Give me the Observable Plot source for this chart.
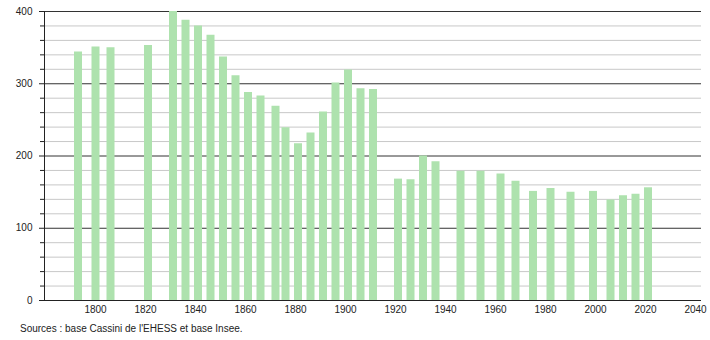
<!DOCTYPE html>
<html><head><meta charset="utf-8">
<script src="https://cdn.jsdelivr.net/npm/d3@7"></script>
<script src="https://cdn.jsdelivr.net/npm/@observablehq/plot@0.6"></script>
<style>
body{margin:0;background:#fff;font-family:"Liberation Sans",Arial,sans-serif;}
#caption{font-size:10px;color:#222;margin:4px 0 0 20px;line-height:14px}
</style></head><body>
<div id="chart"></div>
<div id="caption">Sources : base Cassini de l'EHESS et base Insee.</div>
<script>
const years = [1793,1800,1806,1821,1831,1836,1841,1846,1851,1856,1861,1866,1872,1876,1881,1886,1891,1896,1901,1906,1911,1921,1926,1931,1936,1946,1954,1962,1968,1975,1982,1990,1999,2006,2011,2016,2021];
const population = [344,351,350,353,400,388,380,367,337,311,288,283,269,239,217,232,261,301,319,293,292,168,167,200,192,179,179,175,165,151,155,150,151,139,145,147,156];
const xTicks = [1800,1820,1840,1860,1880,1900,1920,1940,1960,1980,2000,2020,2040];
const yMajor = [0,100,200,300,400];
const yMinor = [20,40,60,80,120,140,160,180,220,240,260,280,320,340,360,380];

const data = years.map((y,i)=>({year:y,pop:population[i]}));
const x0 = 1779.6, x1 = 2042.4;

const chart = Plot.plot({
  width:710, height:318,
  marginTop:11, marginBottom:18, marginLeft:44, marginRight:9,
  x:{domain:[x0,x1]},
  y:{domain:[0,400]},
  style:{fontFamily:"Liberation Sans, Arial, sans-serif", fontSize:"10px", color:"#222", background:"#fff"},
  marks:[
    Plot.ruleY(yMinor,{stroke:"#c8c8c8", strokeWidth:1}),
    Plot.ruleY([100,200,300,400],{stroke:"#333", strokeWidth:1}),
    Plot.ruleX(data,{x:"year", y1:0, y2:"pop", stroke:"#aee2ae", strokeWidth:8}),
    Plot.ruleY([0],{stroke:"#222"}),
    Plot.ruleX([x0],{stroke:"#222"}),
    Plot.axisY(yMinor,{tickSize:4, tickFormat:()=>"", label:null}),
    Plot.axisY(yMajor,{tickSize:5, tickPadding:7, label:null}),
    Plot.axisX(xTicks,{tickSize:0, tickPadding:5, tickFormat:"d", label:null})
  ]
});
document.getElementById("chart").append(chart);
</script>
</body></html>
